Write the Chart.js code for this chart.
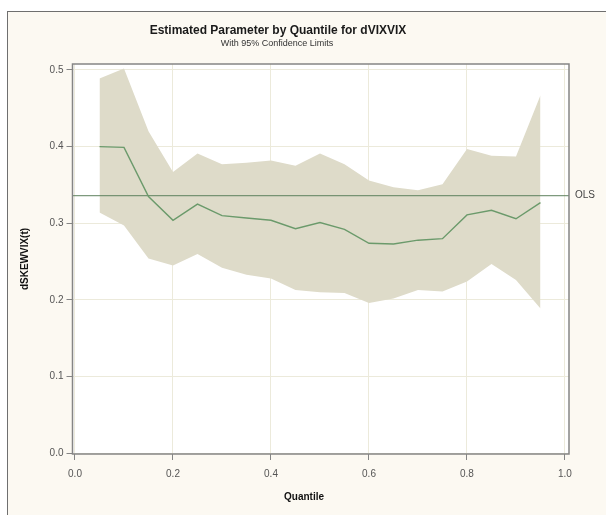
<!DOCTYPE html>
<html>
<head>
<meta charset="utf-8">
<script src="https://cdn.jsdelivr.net/npm/chart.js@4.4.1/dist/chart.umd.min.js"></script>
<style>
  html, body { margin: 0; padding: 0; background: #ffffff; }
  #frame {
    position: absolute; left: 7px; top: 11px; width: 620px; height: 520px;
    background: #fcf9f2; border-left: 1px solid #6f6f6f; border-top: 1px solid #6f6f6f;
  }
  #wrap { position: absolute; left: 0; top: 0; width: 606px; height: 515px; }
</style>
</head>
<body>
<div id="frame"></div>
<div id="wrap"><canvas id="quantChart" width="606" height="515"></canvas></div>
<script>
// Quantile regression estimates
var quantiles = [0.05, 0.10, 0.15, 0.20, 0.25, 0.30, 0.35, 0.40, 0.45, 0.50,
                 0.55, 0.60, 0.65, 0.70, 0.75, 0.80, 0.85, 0.90, 0.95]
var estimate = [0.400, 0.399, 0.335, 0.304, 0.325, 0.310, 0.307, 0.304, 0.293, 0.301,
                0.292, 0.274, 0.273, 0.278, 0.280, 0.311, 0.317, 0.306, 0.327]
var upperCL = [0.489, 0.502, 0.420, 0.367, 0.391, 0.377, 0.379, 0.382, 0.375, 0.391,
               0.377, 0.356, 0.347, 0.343, 0.351, 0.397, 0.388, 0.387, 0.467]
var lowerCL = [0.314, 0.297, 0.254, 0.245, 0.260, 0.242, 0.233, 0.228, 0.213, 0.210,
               0.209, 0.196, 0.202, 0.213, 0.211, 0.224, 0.247, 0.226, 0.189]
var olsValue = 0.336
var xTicks = [0, 0.2, 0.4, 0.6, 0.8, 1.0]
var yTicks = [0, 0.1, 0.2, 0.3, 0.4, 0.5]

var X_MIN = -0.0051, X_MAX = 1.0082
var Y_MIN = -0.0009, Y_MAX = 0.5078

function pts(vals) {
  return quantiles.map(function (q, i) { return { x: q, y: vals[i] } })
}

// white plot area, frame, titles and the OLS label
var decor = {
  id: "decor",
  beforeDraw: function (chart) {
    var c = chart.ctx, a = chart.chartArea
    c.save()
    c.fillStyle = "#ffffff"
    c.fillRect(a.left, a.top, a.right - a.left, a.bottom - a.top)
    c.restore()
  },
  afterDraw: function (chart) {
    var c = chart.ctx, a = chart.chartArea
    c.save()
    c.strokeStyle = "#858585"
    c.lineWidth = 1.5
    c.strokeRect(a.left, a.top, a.right - a.left, a.bottom - a.top)

    c.fillStyle = "#1a1a1a"
    c.textAlign = "center"
    c.textBaseline = "middle"
    c.font = "bold 12px 'Liberation Sans', Arial, sans-serif"
    c.fillText("Estimated Parameter by Quantile for dVIXVIX", 278, 31)
    c.fillStyle = "#333333"
    c.font = "9px 'Liberation Sans', Arial, sans-serif"
    c.fillText("With 95% Confidence Limits", 277, 44)

    c.fillStyle = "#111111"
    c.font = "bold 10px 'Liberation Sans', Arial, sans-serif"
    c.fillText("Quantile", 304, 497)
    c.save()
    c.translate(25, 259)
    c.rotate(-Math.PI / 2)
    c.fillText("dSKEWVIX(t)", 0, 0)
    c.restore()

    var yOls = chart.scales.y.getPixelForValue(olsValue)
    c.fillStyle = "#444444"
    c.textAlign = "left"
    c.font = "10px 'Liberation Sans', Arial, sans-serif"
    c.fillText("OLS", a.right + 6, yOls)
    c.restore()
  }
}

var ctx = document.getElementById("quantChart").getContext("2d")
var quantChart = new Chart(ctx, {
  type: "line",
  data: {
    datasets: [
      {
        label: "Upper",
        data: pts(upperCL),
        borderWidth: 0,
        borderColor: "rgba(0,0,0,0)",
        backgroundColor: "#dedbc9",
        pointRadius: 0,
        tension: 0,
        fill: "+1",
        order: 3,
      },
      {
        label: "Lower",
        data: pts(lowerCL),
        borderWidth: 0,
        borderColor: "rgba(0,0,0,0)",
        pointRadius: 0,
        tension: 0,
        fill: false,
        order: 3,
      },
      {
        label: "OLS",
        data: [{ x: X_MIN, y: olsValue }, { x: X_MAX, y: olsValue }],
        borderColor: "#5e805e",
        borderWidth: 1,
        pointRadius: 0,
        fill: false,
        order: 1,
      },
      {
        label: "Estimate",
        data: pts(estimate),
        borderColor: "#6b9a6b",
        borderWidth: 1.4,
        pointRadius: 0,
        tension: 0,
        fill: false,
        order: 0,
      },
    ],
  },
  options: {
    responsive: false,
    animation: false,
    layout: { padding: { top: 64, right: 37, bottom: 0, left: 0 } },
    plugins: { legend: { display: false }, tooltip: { enabled: false } },
    scales: {
      x: {
        type: "linear",
        min: X_MIN,
        max: X_MAX,
        afterBuildTicks: function (axis) {
          axis.ticks = xTicks.map(function (v) { return { value: v } })
        },
        afterFit: function (axis) { axis.height = 61 },
        grid: { color: "#eceadb", tickColor: "#858585", tickLength: 6, drawOnChartArea: true },
        border: { display: false },
        ticks: {
          color: "#555555",
          padding: 8,
          maxRotation: 0,
          font: { family: "'Liberation Sans', Arial, sans-serif", size: 10 },
          callback: function (v) { return v.toFixed(1) },
        },
      },
      y: {
        min: Y_MIN,
        max: Y_MAX,
        afterBuildTicks: function (axis) {
          axis.ticks = yTicks.map(function (v) { return { value: v } })
        },
        afterFit: function (axis) { axis.width = 72.5 },
        grid: { color: "#eceadb", tickColor: "#858585", tickLength: 6 },
        border: { display: false },
        ticks: {
          color: "#555555",
          padding: 3,
          font: { family: "'Liberation Sans', Arial, sans-serif", size: 10 },
          callback: function (v) { return v.toFixed(1) },
        },
      },
    },
  },
  plugins: [decor],
})
</script>
</body>
</html>
